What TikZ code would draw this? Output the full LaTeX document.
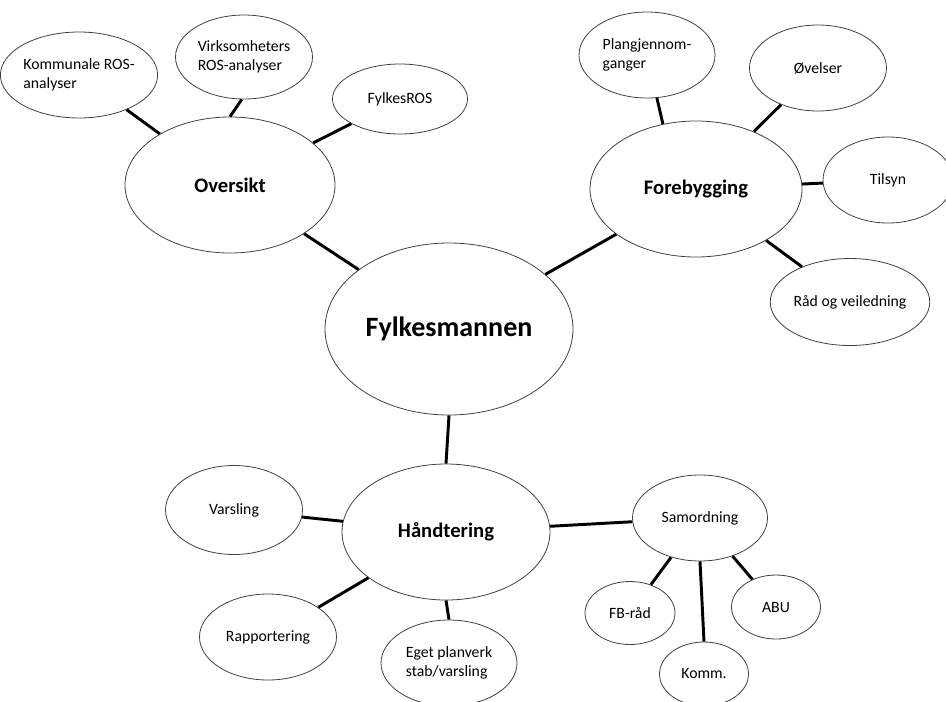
\documentclass[tikz,border=0pt]{standalone}
\usepackage{fontspec}
\setmainfont{Carlito}
\usetikzlibrary{shapes.geometric}

\begin{document}
\begin{tikzpicture}[x=0.75pt,y=-0.75pt]
            \tikzset{bubble/.style={ellipse, draw=black!75, line width=0.6pt, inner sep=0pt, align=left, font=\fontsize{11.8}{14.5}\selectfont}};
            \tikzset{hub/.style={bubble, font=\fontsize{15.5}{18}\selectfont\bfseries}};
            \tikzset{size/.style 2 args={minimum width=#1*0.75pt, minimum height=#2*0.75pt}};
            \tikzset{line/.style={line width=2.2pt}};

            \useasboundingbox (0,0) rectangle (946,701);

            % sentrum
            \node[hub, size={248}{172}, font=\fontsize{21}{24}\selectfont\bfseries] (fylke) at (449,329) {Fylkesmannen};

            % oversikt
            \node[hub, size={210}{136}] (oversikt) at (230,185) {Oversikt};
            \node[bubble, size={135}{86}] (kommros) at (79,75) {Kommunale ROS-\\analyser};
            \node[bubble, size={137}{84}] (virkros) at (244,57) {Virksomheters\\ROS-analyser};
            \node[bubble, size={135}{70}] (fylkesros) at (400,99) {FylkesROS};

            \draw[line] (kommros) -- (oversikt);
            \draw[line] (virkros.-93) -- (oversikt.north);
            \draw[line] (fylkesros) -- (oversikt);
            \draw[line] (oversikt) -- (fylke);

            % forebygging
            \node[hub, size={212}{136}] (forebygg) at (696,189) {Forebygging};
            \node[bubble, size={136}{86}] (plan) at (647,55) {Plangjennom-\\ganger};
            \node[bubble, size={137}{86}] (ovelser) at (818,68) {Øvelser};
            \node[bubble, size={130}{86}] (tilsyn) at (888,180) {Tilsyn};
            \node[bubble, size={135}{87}] (raad) at (850,302) {Råd og veiledning};

            \draw[line] (plan.-77) -- (forebygg.117);
            \draw[line] (ovelser) -- (forebygg);
            \draw[line] (tilsyn) -- (forebygg);
            \draw[line] (raad) -- (forebygg);
            \draw[line] (fylke) -- (forebygg);

            % handtering
            \node[hub, size={208}{136}] (handt) at (446,532) {Håndtering};
            \node[bubble, size={137}{89}] (varsling) at (234,510) {Varsling};
            \node[bubble, size={137}{86}] (rapport) at (268,637) {Rapportering};
            \node[bubble, size={136}{86}] (planverk) at (449,663) {Eget planverk\\stab/varsling};
            \node[bubble, size={135}{86}] (samord) at (700,518) {Samordning};
            \node[bubble, size={90}{63}] (fbraad) at (630,613) {FB-råd};
            \node[bubble, size={89}{64}] (komm) at (704,674) {Komm.};
            \node[bubble, size={89}{64}] (abu) at (776,607) {ABU};

            \draw[line] (fylke.south) -- (handt.north);
            \draw[line] (varsling) -- (handt);
            \draw[line] (rapport) -- (handt);
            \draw[line] (handt.south) -- (planverk.north);
            \draw[line] (handt) -- (samord);
            \draw[line] (samord) -- (fbraad);
            \draw[line] (samord.south) -- (komm.north);
            \draw[line] (samord) -- (abu);
\end{tikzpicture}
\end{document}
